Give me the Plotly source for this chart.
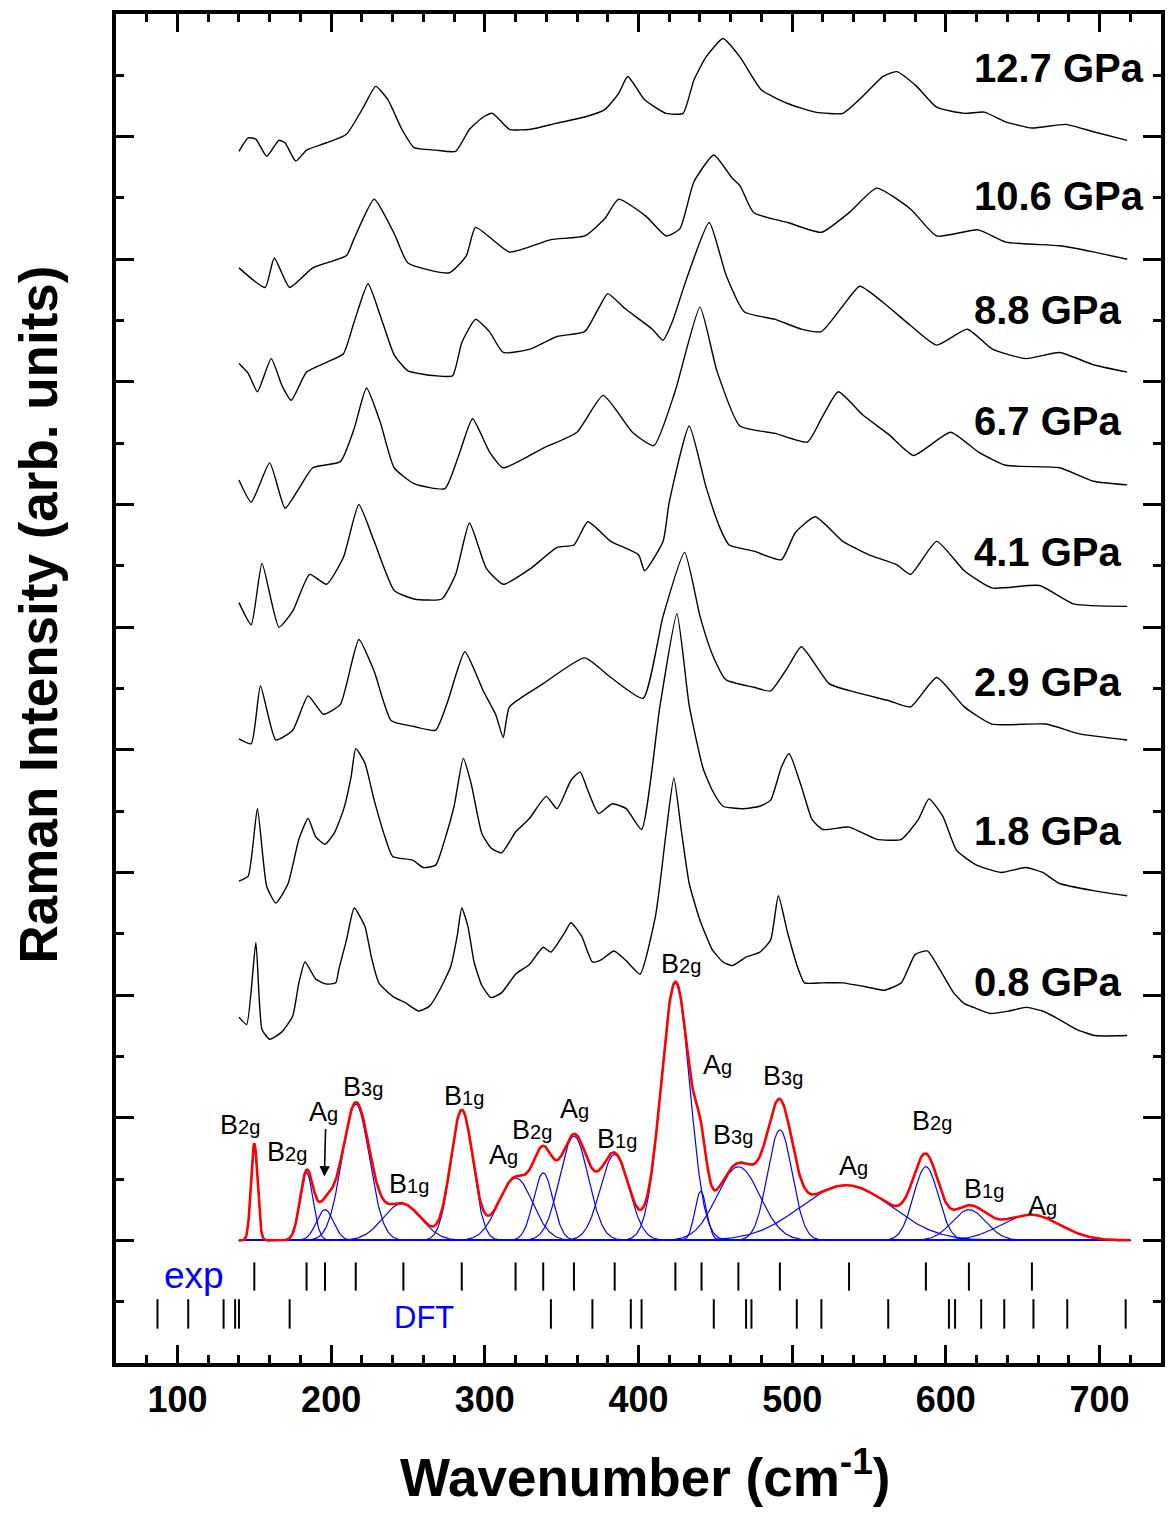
import numpy as np
import plotly.graph_objects as go

# ---------------- data: stacked Raman spectra (wavenumber cm^-1, intensity arb. units incl. offset) -------------
pressures = ["0.8 GPa", "1.8 GPa", "2.9 GPa", "4.1 GPa", "6.7 GPa", "8.8 GPa", "10.6 GPa", "12.7 GPa"]

wn_08 = [140,145,151,155,160,168,175,179,183,190,197,203,205,210,215,222,226,231,240,248,
         257,264,271,278,282,285,289,293,298,304,311,320,329,338,343,352,356,363,370,376,
         384,392,401,411,414,418,423,428,433,440,448,455,461,470,479,486,491,497,504,508,
         520,533,551,560,571,580,588,596,605,612,618,629,641,652,663,674,685,697,718]
int_08 = [182,176,243,172,164,170,183,210,227,213,209,210,221,245,271,256,232,210,199,194,
          187,191,205,224,248,271,256,227,208,198,202,217,225,239,235,251,259,248,227,229,
          236,228,217,264,291,333,377,333,291,261,237,227,224,231,235,245,281,251,221,210,
          210,210,206,204,210,233,236,221,202,193,190,185,187,190,187,180,172,167,167]

wn_18 = [140,146,152,158,164,172,179,185,190,196,202,208,213,216,222,228,235,240,253,260,
         268,274,280,286,291,298,304,311,320,329,340,347,356,362,367,374,383,392,402,414,
         425,433,442,448,455,468,479,486,493,498,506,513,520,537,555,571,582,589,598,607,
         620,636,652,663,674,697,718]
int_18 = [293,297,352,289,275,291,327,344,329,323,332,351,378,401,389,359,329,313,310,304,
          306,327,354,393,373,332,320,316,333,344,362,352,375,382,367,348,356,352,335,436,
          511,436,385,367,354,352,354,359,386,397,370,343,335,337,327,327,343,360,346,318,
          306,300,304,300,291,285,281]

wn_29 = [140,148,154,164,175,185,195,206,218,228,239,254,268,276,287,299,307,312,316,338,
         365,382,403,416,430,440,448,457,475,486,497,506,524,541,563,577,594,612,630,665,
         687,718]
int_29 = [409,405,452,408,416,444,429,437,490,464,424,419,416,440,480,448,429,410,435,454,
          475,459,442,509,561,509,478,457,451,448,467,484,454,447,440,435,459,435,421,421,
          413,408]

wn_41 = [140,148,155,166,175,186,197,208,218,228,241,254,272,281,290,301,312,330,347,358,
         367,382,400,404,416,420,433,444,453,459,475,493,502,515,533,550,568,577,594,612,
         630,661,683,718]
int_41 = [520,502,552,500,513,543,535,557,600,570,530,523,523,543,585,548,535,548,565,567,
          586,570,559,546,570,602,664,614,581,567,562,555,577,590,570,559,551,543,570,546,
          532,534,519,517]

wn_67 = [140,148,160,170,179,188,206,215,223,232,241,254,274,283,292,303,312,338,360,377,
         396,410,424,440,451,466,489,510,519,530,546,563,579,603,621,639,674,696,718]
int_67 = [620,602,634,597,613,630,635,662,695,667,630,617,613,640,670,643,630,646,659,689,
          659,648,693,761,709,664,658,651,670,692,673,657,640,659,643,632,630,619,616]

wn_88 = [140,146,152,161,168,174,184,197,208,215,224,232,241,250,268,279,285,294,303,312,
         330,347,365,374,380,391,409,416,422,431,446,457,469,489,506,519,533,544,559,577,
         594,614,630,652,674,696,718]
int_88 = [715,707,692,719,697,685,708,716,723,749,780,754,722,709,705,705,732,751,741,724,
          727,737,741,760,772,760,743,734,749,783,830,787,757,751,743,741,762,778,765,746,
          730,743,727,719,724,714,708]

wn_106 = [140,157,163,173,188,210,215,228,241,250,277,288,294,316,343,365,378,387,405,418,
          427,436,449,461,466,475,497,519,537,555,577,594,621,639,674,696,718]
int_106 = [793,777,801,777,793,803,817,849,821,797,789,803,826,806,816,819,833,849,835,819,
           825,863,885,866,860,838,830,822,838,858,841,819,824,814,811,806,800]

wn_127 = [140,146,151,158,166,170,177,184,197,210,221,229,237,246,254,268,281,290,299,305,
          316,330,347,365,378,387,393,404,418,429,436,444,455,466,480,497,515,533,546,559,
          568,581,594,612,625,639,656,678,696,718]
int_127 = [888,899,898,884,897,895,880,889,895,902,924,941,930,906,891,889,888,906,916,919,
           906,906,911,916,922,935,949,930,919,919,946,965,980,965,938,927,920,919,933,949,
           953,941,924,919,920,912,907,910,904,897]

spectra_wn = [wn_08, wn_18, wn_29, wn_41, wn_67, wn_88, wn_106, wn_127]
spectra_int = [int_08, int_18, int_29, int_41, int_67, int_88, int_106, int_127]
# label anchor (wavenumber, intensity) for each pressure
pressure_label_wn = [617, 617, 617, 617, 617, 617, 617, 617]
pressure_label_y = [211, 334, 455, 561, 668, 759, 852, 956]

# ---------------- data: peak fit of the 0.8 GPa spectrum (Gaussian components) -------------
mode_names = ["B2g", "B2g", "Ag", "B3g", "B1g", "B1g", "Ag", "B2g", "Ag", "B1g",
              "B2g", "Ag", "B3g", "B3g", "Ag", "B2g", "B1g", "Ag"]
mode_center = [150, 184, 196, 216, 246, 285, 320, 338, 358, 384.5,
               424, 440.5, 465, 492, 535, 587, 615, 655]
mode_height = [79, 55, 25, 111, 30, 106, 51, 55, 85, 70,
               210, 40, 60, 90, 45, 60, 25, 21]
mode_fwhm = [5, 10, 13, 21, 29, 17, 26, 15, 22, 22,
             22, 9, 33, 19, 70, 19, 26, 45]
# label positions for the mode names (wavenumber, intensity)
mode_label_wn = [141, 171, 194.7, 220.4, 250.7, 286.6, 312.3, 330.9, 358.3, 386.2,
                 427.8, 451.3, 461.3, 493.8, 539.7, 591.3, 625, 663]
mode_label_y = [94, 72, 105, 125, 46, 118, 70, 90, 107, 83,
                225, 143, 86, 134, 61, 97, 42, 28]

exp_modes = [150, 184, 196, 216, 247, 285, 320, 338, 358, 384.5,
             424, 441, 465, 492, 537, 587, 615, 656]
dft_modes = [87, 107, 130, 137.5, 140, 173, 343, 370, 395, 402,
             449, 470, 473.5, 503, 519, 562.5, 602, 606, 623, 638, 657, 679, 717]

FONT = "Liberation Sans, Arial, Helvetica, sans-serif"

fig = go.Figure()

# experimental spectra
for wn, inten, p in zip(spectra_wn, spectra_int, pressures):
    fig.add_trace(go.Scatter(x=wn, y=inten, mode="lines", name=p,
                             line=dict(color="black", width=1.4, shape="spline", smoothing=0.5),
                             hoverinfo="x+y+name"))

# Gaussian fit components and their sum
grid = np.arange(140, 720.01, 0.5)
total = np.zeros_like(grid)
for c, h, f in zip(mode_center, mode_height, mode_fwhm):
    sigma = f / 2.3548
    comp = h * np.exp(-0.5 * ((grid - c) / sigma) ** 2)
    total += comp
    fig.add_trace(go.Scatter(x=grid, y=comp, mode="lines",
                             line=dict(color="#0000FF", width=1.2), hoverinfo="skip"))
fig.add_trace(go.Scatter(x=grid, y=total, mode="lines",
                         line=dict(color="#FF0000", width=2.6), hoverinfo="skip"))

# exp / DFT stick marks
def sticks(vals, y0, y1):
    xs, ys = [], []
    for v in vals:
        xs += [v, v, None]
        ys += [y0, y1, None]
    return xs, ys

ex, ey = sticks(exp_modes, -18, -41)
fig.add_trace(go.Scatter(x=ex, y=ey, mode="lines", line=dict(color="black", width=2),
                         hoverinfo="skip"))
dx, dy = sticks(dft_modes, -48, -72)
fig.add_trace(go.Scatter(x=dx, y=dy, mode="lines", line=dict(color="black", width=2),
                         hoverinfo="skip"))

annotations = []
for name, lx, ly in zip(mode_names, mode_label_wn, mode_label_y):
    txt = name[0] + "<span style='font-size:20px'>" + name[1:] + "</span>"
    annotations.append(dict(x=lx, y=ly, xref="x", yref="y", text=txt, showarrow=False,
                            xanchor="center", yanchor="middle",
                            font=dict(family=FONT, size=27, color="black")))
for p, lx, ly in zip(pressures, pressure_label_wn, pressure_label_y):
    annotations.append(dict(x=lx, y=ly, xref="x", yref="y", text="<b>" + p + "</b>",
                            showarrow=False, xanchor="left", yanchor="middle",
                            font=dict(family=FONT, size=40, color="black")))
# arrow pointing at the weak Ag mode
annotations.append(dict(x=195.6, y=52, ax=196.4, ay=92, xref="x", yref="y",
                        axref="x", ayref="y", text="", showarrow=True,
                        arrowhead=2, arrowsize=1.3, arrowwidth=1.6, arrowcolor="black"))
annotations.append(dict(x=110.7, y=-29, xref="x", yref="y", text="exp", showarrow=False,
                        xanchor="center", yanchor="middle",
                        font=dict(family=FONT, size=37, color="#0000FF")))
annotations.append(dict(x=260.7, y=-63, xref="x", yref="y", text="DFT", showarrow=False,
                        xanchor="center", yanchor="middle",
                        font=dict(family=FONT, size=31, color="#0000FF")))
# axis titles
annotations.append(dict(x=-0.0745, y=0.555, xref="paper", yref="paper",
                        text="<b>Raman Intensity (arb. units)</b>", textangle=-90,
                        showarrow=False, xanchor="center", yanchor="middle",
                        font=dict(family=FONT, size=53, color="black")))
annotations.append(dict(x=0.506, y=-0.082, xref="paper", yref="paper",
                        text="<b>Wavenumber (cm<sup>-1</sup>)</b>",
                        showarrow=False, xanchor="center", yanchor="middle",
                        font=dict(family=FONT, size=53, color="black")))

axis_common = dict(showline=True, linewidth=4, linecolor="black", mirror="allticks",
                   ticks="inside", ticklen=18, tickwidth=3, tickcolor="black",
                   showgrid=False, zeroline=False)

# the page adds an 8px body margin, so the figure is 8px smaller and margins shifted
fig.update_layout(
    width=1166, height=1507,
    margin=dict(l=108, r=13, t=2, b=152),
    plot_bgcolor="white", paper_bgcolor="white",
    showlegend=False,
    annotations=annotations,
    xaxis=dict(range=[60, 740], tick0=0, dtick=100,
               tickfont=dict(family=FONT, size=36, color="black"),
               tickprefix="<b>", ticksuffix="</b>", ticklabelstandoff=2,
               minor=dict(dtick=20, ticks="inside", ticklen=8, tickwidth=3,
                          tickcolor="black", showgrid=False),
               **axis_common),
    yaxis=dict(range=[-100, 1000], tick0=0, dtick=100, showticklabels=False,
               minor=dict(dtick=50, ticks="inside", ticklen=8, tickwidth=3,
                          tickcolor="black", showgrid=False),
               **axis_common),
)

fig.write_html("out.html")
